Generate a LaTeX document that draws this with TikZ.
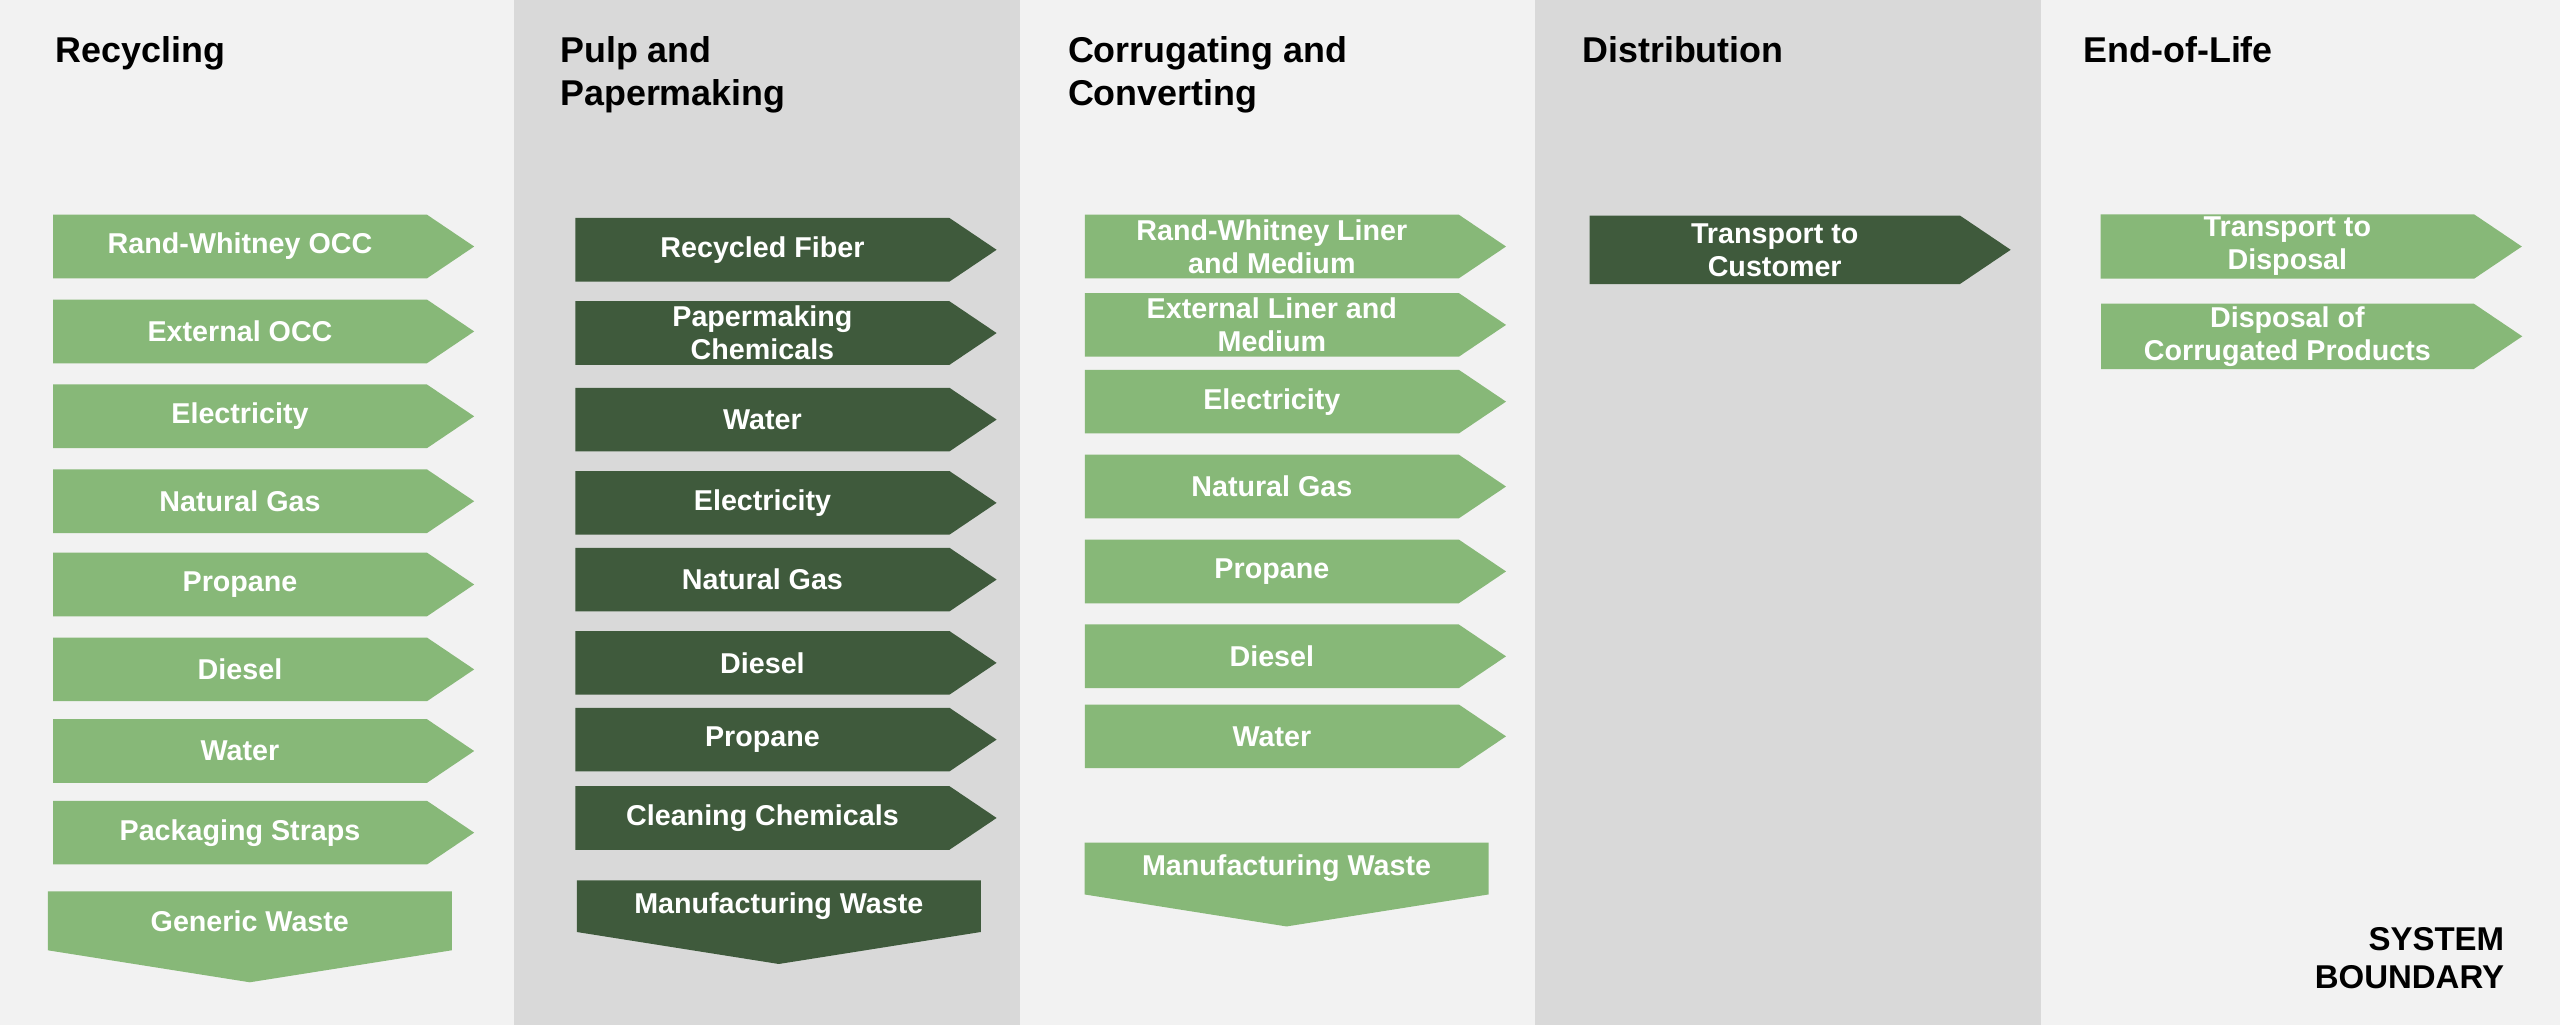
\documentclass[tikz,border=0pt]{standalone}
\usepackage{fontspec}
\setmainfont{Liberation Sans}
\usetikzlibrary{shapes.symbols, positioning}
\definecolor{lightgreen}{HTML}{87B878}
\definecolor{darkgreen}{HTML}{3F5A3C}
\definecolor{lightpanel}{HTML}{F2F2F2}
\definecolor{darkpanel}{HTML}{D9D9D9}
\tikzset{%
	every flow/.style={
		signal, signal to=east, signal pointer angle=68,
		minimum width=5.16cm, minimum height=0.78cm,
		inner sep=1pt, align=center, text=white,
		font=\bfseries\fontsize{10}{11.5}\selectfont
	},
	flow light/.style={every flow, fill=lightgreen},
	flow dark/.style={every flow, fill=darkgreen},
	waste/.style={
		signal, signal to=south, signal pointer angle=162,
		minimum width=4.95cm, minimum height=0.92cm,
		inner sep=1pt, text=white,
		font=\bfseries\fontsize{10}{11.5}\selectfont
	},
	stage/.style={anchor=north west, align=left,
		font=\bfseries\fontsize{12.5}{15}\selectfont},
}
\begin{document}
\begin{tikzpicture}[x=0.02cm, y=-0.02cm]
	% panels
	\fill[lightpanel] (0,0) rectangle (315,628);
	\fill[darkpanel] (315,0) rectangle (625,628);
	\fill[lightpanel] (625,0) rectangle (940,628);
	\fill[darkpanel] (940,0) rectangle (1250,628);
	\fill[lightpanel] (1250,0) rectangle (1568,628);
	\useasboundingbox (0,0) rectangle (1568,628);
	% stage titles
	\node[stage] (recycling) at (28,16) {Recycling};
	\node[stage] (pulp) at (337,16) {Pulp and\\Papermaking};
	\node[stage] (corrugating) at (648,16) {Corrugating and\\Converting};
	\node[stage] (distribution) at (963,16) {Distribution};
	\node[stage] (endoflife) at (1270,16) {End-of-Life};
	% recycling inputs
	\foreach \name/\y [count=\i] in {Rand-Whitney OCC/151, External OCC/203, Electricity/255,
		Natural Gas/307, Propane/358, Diesel/410, Water/460, Packaging Straps/510} {
		\node[flow light] (rec\i) at (147,\y) {\name};
	}
	\node[waste, fill=lightgreen] (recwaste) at (153,564) {Generic Waste};
	% pulp and papermaking inputs
	\foreach \name/\y [count=\i] in {Recycled Fiber/153, Papermaking\\Chemicals/204, Water/257,
		Electricity/308, Natural Gas/355, Diesel/406, Propane/453, Cleaning Chemicals/501} {
		\node[flow dark] (pulp\i) at (467,\y) {\name};
	}
	\node[waste, fill=darkgreen] (pulpwaste) at (477,555) {Manufacturing Waste};
	% corrugating inputs
	\foreach \name/\y [count=\i] in {Rand-Whitney Liner\\and Medium/151, External Liner and\\Medium/199,
		Electricity/246, Natural Gas/298, Propane/350, Diesel/402, Water/451} {
		\node[flow light] (corr\i) at (779,\y) {\name};
	}
	\node[waste, fill=lightgreen] (corrwaste) at (788,532) {Manufacturing Waste};
	% distribution
	\node[flow dark, minimum height=0.84cm] (dist1) at (1087,153) {Transport to\\Customer};
	% end of life
	\node[flow light] (eol1) at (1401,151) {Transport to\\Disposal};
	\node[flow light] (eol2) at (1401,206) {Disposal of\\Corrugated Products};
	% boundary label
	\node[anchor=south east, align=right, font=\bfseries\fontsize{11.5}{13.5}\selectfont]
		(boundary) at (1540,612) {SYSTEM\\BOUNDARY};
\end{tikzpicture}
\end{document}
